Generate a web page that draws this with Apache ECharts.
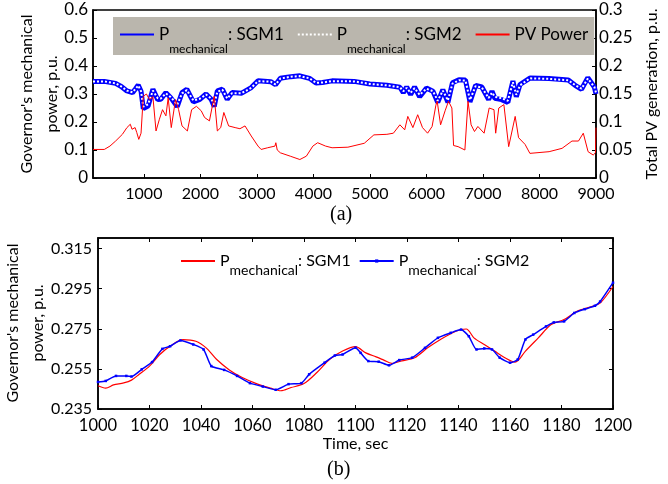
<!DOCTYPE html>
<html>
<head>
<meta charset="utf-8">
<script src="https://cdn.jsdelivr.net/npm/echarts@6/dist/echarts.min.js"></script>
<style>
  html, body { margin: 0; padding: 0; background: #fff; }
  #chart { width: 668px; height: 484px; }
</style>
</head>
<body>
<div id="chart"></div>
<script>
// (a) whole run, seconds
const sgmTime = [100, 300, 500, 600, 700, 800, 850, 900, 950, 990, 1075, 1160, 1245, 1300, 1390, 1475, 1590, 1675, 1760, 1875,
  1990, 2100, 2190, 2245, 2300, 2390, 2475, 2560, 2730, 2900, 3020, 3245, 3330, 3415, 3600, 3760, 3930, 4045, 4160, 4330,
  4720, 5000, 5300, 5530, 5590, 5650, 5720, 5790, 5880, 6000, 6115, 6200, 6290, 6380, 6460, 6575, 6690, 6770, 6870, 6980,
  7100, 7160, 7210, 7330, 7440, 7530, 7590, 7655, 7830, 8170, 8510, 8630, 8744, 8855, 8970, 9000];
const sgm1 = [0.345, 0.345, 0.338, 0.327, 0.311, 0.305, 0.318, 0.332, 0.31, 0.248, 0.257, 0.317, 0.28, 0.281, 0.305, 0.287, 0.255, 0.305, 0.317, 0.272,
  0.281, 0.3, 0.281, 0.255, 0.311, 0.317, 0.281, 0.305, 0.303, 0.323, 0.347, 0.344, 0.333, 0.356, 0.362, 0.365, 0.356, 0.339, 0.341, 0.347,
  0.345, 0.336, 0.331, 0.324, 0.305, 0.325, 0.298, 0.325, 0.29, 0.321, 0.31, 0.27, 0.315, 0.27, 0.34, 0.351, 0.35, 0.272, 0.331, 0.325,
  0.28, 0.31, 0.285, 0.28, 0.27, 0.346, 0.29, 0.334, 0.357, 0.355, 0.35, 0.331, 0.317, 0.358, 0.325, 0.3];
const sgm2 = [0.345, 0.345, 0.338, 0.327, 0.312, 0.306, 0.318, 0.33, 0.31, 0.255, 0.263, 0.312, 0.285, 0.284, 0.302, 0.289, 0.262, 0.302, 0.314, 0.277,
  0.283, 0.298, 0.284, 0.262, 0.308, 0.315, 0.284, 0.303, 0.303, 0.322, 0.346, 0.344, 0.334, 0.355, 0.362, 0.364, 0.356, 0.34, 0.341, 0.346,
  0.345, 0.336, 0.331, 0.324, 0.31, 0.322, 0.304, 0.321, 0.297, 0.319, 0.31, 0.276, 0.312, 0.277, 0.337, 0.349, 0.348, 0.279, 0.328, 0.323,
  0.286, 0.305, 0.29, 0.285, 0.276, 0.342, 0.297, 0.331, 0.356, 0.354, 0.349, 0.332, 0.319, 0.355, 0.326, 0.305];
const pvTime = [100, 300, 400, 500, 620, 700, 760, 790, 845, 875, 910, 950, 990, 1045, 1100, 1160, 1215, 1275, 1330, 1390,
  1430, 1485, 1560, 1615, 1675, 1770, 1845, 1930, 2015, 2075, 2160, 2245, 2300, 2360, 2415, 2500, 2615, 2700, 2790, 2900,
  3020, 3075, 3190, 3320, 3335, 3360, 3415, 3590, 3760, 3875, 3990, 4075, 4215, 4330, 4610, 4900, 5070, 5300, 5415, 5530,
  5615, 5670, 5760, 5845, 5930, 6020, 6100, 6167, 6190, 6250, 6330, 6390, 6450, 6480, 6560, 6680, 6735, 6790, 6850, 6910,
  7020, 7110, 7195, 7225, 7280, 7370, 7455, 7570, 7630, 7745, 7830, 8170, 8400, 8575, 8690, 8775, 8860, 8950, 8990, 9000];
const pvPower = [0.051, 0.051, 0.057, 0.066, 0.078, 0.09, 0.096, 0.087, 0.09, 0.081, 0.069, 0.08, 0.146, 0.15, 0.14, 0.145, 0.084, 0.105, 0.122, 0.111,
  0.143, 0.09, 0.14, 0.122, 0.093, 0.084, 0.122, 0.128, 0.12, 0.108, 0.102, 0.146, 0.084, 0.09, 0.117, 0.093, 0.09, 0.088, 0.093, 0.075,
  0.057, 0.051, 0.054, 0.057, 0.063, 0.05, 0.045, 0.039, 0.033, 0.039, 0.057, 0.063, 0.057, 0.054, 0.055, 0.062, 0.077, 0.078, 0.08, 0.095,
  0.086, 0.11, 0.09, 0.113, 0.09, 0.08, 0.092, 0.13, 0.137, 0.095, 0.12, 0.137, 0.125, 0.058, 0.056, 0.05, 0.137, 0.095, 0.083, 0.092,
  0.08, 0.125, 0.122, 0.08, 0.125, 0.131, 0.056, 0.11, 0.072, 0.06, 0.044, 0.047, 0.053, 0.066, 0.066, 0.08, 0.047, 0.041, 0.045, 0.09];

// (b) zoom on 1000..1200 s
const zoomTime1 = [1000, 1003, 1006, 1010, 1013, 1016, 1020, 1024, 1028, 1033, 1038, 1042, 1046, 1051, 1056, 1062, 1067, 1071, 1075, 1080,
  1085, 1090, 1095, 1100, 1104, 1108, 1111, 1114, 1118, 1123, 1128, 1133, 1139, 1143, 1146, 1150, 1154, 1158, 1162, 1166,
  1171, 1176, 1181, 1186, 1192, 1195, 1200];
const zoomSgm1 = [0.2466, 0.2454, 0.247, 0.248, 0.2494, 0.2523, 0.2564, 0.2622, 0.2663, 0.2696, 0.2688, 0.2655, 0.2598, 0.2545, 0.2507, 0.2474, 0.2454, 0.2441, 0.2457, 0.2477,
  0.2532, 0.2598, 0.2639, 0.2661, 0.263, 0.261, 0.2594, 0.2578, 0.259, 0.2606, 0.2655, 0.2697, 0.2738, 0.2749, 0.2705, 0.2672, 0.2639, 0.2606, 0.2584, 0.2639,
  0.2705, 0.2771, 0.2796, 0.2837, 0.2862, 0.2878, 0.2961];
const zoomTime2 = [1000, 1003, 1007, 1011, 1013, 1017, 1021, 1025, 1028, 1032, 1037, 1041, 1044, 1049, 1054, 1059, 1064, 1069, 1074, 1079,
  1082, 1088, 1092, 1095, 1100, 1102, 1105, 1109, 1113, 1117, 1122, 1127, 1132, 1137, 1141, 1144, 1147, 1150, 1153, 1156,
  1160, 1163, 1166, 1169, 1174, 1177, 1181, 1185, 1189, 1193, 1195, 1200];
const zoomSgm2 = [0.2485, 0.249, 0.2515, 0.2515, 0.2512, 0.2548, 0.2584, 0.265, 0.2663, 0.2692, 0.2672, 0.2647, 0.2564, 0.2545, 0.2515, 0.2479, 0.2462, 0.2446, 0.2474, 0.2479,
  0.2523, 0.2581, 0.2617, 0.2622, 0.2656, 0.263, 0.2589, 0.2586, 0.2568, 0.2594, 0.2606, 0.2655, 0.2705, 0.273, 0.2746, 0.2713, 0.2647, 0.2652, 0.2647, 0.2606,
  0.2581, 0.2597, 0.2697, 0.2721, 0.2762, 0.2782, 0.2787, 0.2829, 0.2848, 0.2865, 0.2886, 0.298];

// tick labels
const topTicksX = [1000, 2000, 3000, 4000, 5000, 6000, 7000, 8000, 9000];
const zoomTicksY = [0.235, 0.255, 0.275, 0.295, 0.315];

const pairs = (xs, ys) => xs.map((x, i) => [x, ys[i]]);
const font = 'Lato';
const legendNames = { a1: 'SGM1', a2: 'SGM2', b1: 'SGM1', b2: 'SGM2' };

// P with a "mechanical" subscript, built from rich text tokens
function legendText(name) {
  if (name === 'pv') return '{p|PV Power}';
  return '{p|P}{sub|mechanical}{p|: ' + legendNames[name] + '}';
}

// two-line rotated axis title (axis name line spacing came out too tight)
function sideTitle(text, x, y) {
  return {
    type: 'text', x: x, y: y, rotation: Math.PI / 2,
    style: { text: text, font: '16px ' + font, fill: '#000', align: 'center', verticalAlign: 'middle' }
  };
}

const axisBase = {
  axisLine: { lineStyle: { color: '#000', width: 1.5 } },
  axisTick: { inside: true, length: 4, lineStyle: { color: '#000' } },
  axisLabel: { color: '#000', fontFamily: font, fontSize: 16, formatter: v => String(v) },
  splitLine: { show: false },
  nameMoveOverlap: false,
  nameTextStyle: { color: '#000', fontFamily: font, fontSize: 16 }
};

const chart = echarts.init(document.getElementById('chart'));
chart.setOption({
  animation: false,
  backgroundColor: '#fff',
  grid: [
    { left: 93, top: 10, width: 519, height: 168, show: true, borderColor: '#000', borderWidth: 1.5 },
    { left: 98, top: 238, width: 515, height: 171, show: true, borderColor: '#000', borderWidth: 1.5 }
  ],
  legend: [
    {
      data: ['a1', 'a2', 'pv'],
      left: 113, top: 17,
      backgroundColor: '#bab6ad',
      padding: [9, 6, 0, 6],
      itemWidth: 34, itemHeight: 10, itemGap: 13,
      itemStyle: { opacity: 0 },
      formatter: legendText,
      textStyle: {
        color: '#000',
        rich: {
          p: { fontFamily: font, fontSize: 17, lineHeight: 41, verticalAlign: 'middle' },
          sub: { fontFamily: font, fontSize: 12, lineHeight: 10, verticalAlign: 'bottom' }
        }
      }
    },
    {
      data: [{ name: 'b1', itemStyle: { opacity: 0 } }, { name: 'b2' }],
      left: 180, top: 253,
      padding: 0,
      itemWidth: 34, itemHeight: 4, itemGap: 8,
      formatter: legendText,
      textStyle: {
        color: '#000',
        rich: {
          p: { fontFamily: font, fontSize: 16, lineHeight: 32, verticalAlign: 'middle' },
          sub: { fontFamily: font, fontSize: 14, lineHeight: 12, verticalAlign: 'bottom' }
        }
      }
    }
  ],
  xAxis: [
    Object.assign({}, axisBase, {
      type: 'value', gridIndex: 0, min: 100, max: 9000,
      axisTick: Object.assign({}, axisBase.axisTick, { customValues: topTicksX }),
      axisLabel: Object.assign({}, axisBase.axisLabel, { customValues: topTicksX, margin: 8 })
    }),
    Object.assign({}, axisBase, {
      type: 'value', gridIndex: 1, min: 1000, max: 1200, interval: 20,
      name: 'Time, sec', nameLocation: 'middle', nameGap: 27,
      axisLabel: Object.assign({}, axisBase.axisLabel, { margin: 8, fontSize: 16.5 })
    }),
    Object.assign({}, axisBase, {
      type: 'value', gridIndex: 1, position: 'top', min: 1000, max: 1200, interval: 20,
      axisLabel: { show: false }
    })
  ],
  yAxis: [
    Object.assign({}, axisBase, {
      type: 'value', gridIndex: 0, min: 0, max: 0.6, interval: 0.1,
      axisLabel: Object.assign({}, axisBase.axisLabel, { fontSize: 17, margin: 5 })
    }),
    Object.assign({}, axisBase, {
      type: 'value', gridIndex: 0, position: 'right', min: 0, max: 0.3, interval: 0.05,
      name: 'Total PV generation, p.u.', nameLocation: 'middle', nameRotate: 90, nameGap: 48,
      axisLabel: Object.assign({}, axisBase.axisLabel, { fontSize: 17, margin: 3 })
    }),
    Object.assign({}, axisBase, {
      type: 'value', gridIndex: 1, min: 0.235, max: 0.3203,
      axisTick: Object.assign({}, axisBase.axisTick, { customValues: zoomTicksY }),
      axisLabel: Object.assign({}, axisBase.axisLabel, {
        customValues: zoomTicksY, margin: 6, formatter: v => v.toFixed(3)
      })
    }),
    Object.assign({}, axisBase, {
      type: 'value', gridIndex: 1, position: 'right', min: 0.235, max: 0.3203,
      axisTick: Object.assign({}, axisBase.axisTick, { customValues: zoomTicksY }),
      axisLabel: { show: false }
    })
  ],
  series: [
    {
      name: 'a1', type: 'line', xAxisIndex: 0, yAxisIndex: 0, symbol: 'none',
      color: '#0000ff', lineStyle: { color: '#0000ff', width: 5 },
      data: pairs(sgmTime, sgm1)
    },
    {
      name: 'a2', type: 'line', xAxisIndex: 0, yAxisIndex: 0, symbol: 'none',
      color: '#ffffff', lineStyle: { color: '#ffffff', width: 2, type: [2, 2] },
      data: pairs(sgmTime, sgm2)
    },
    {
      name: 'pv', type: 'line', xAxisIndex: 0, yAxisIndex: 1, symbol: 'none',
      color: '#ff0000', lineStyle: { color: '#ff0000', width: 1 },
      data: pairs(pvTime, pvPower)
    },
    {
      name: 'b1', type: 'line', xAxisIndex: 1, yAxisIndex: 2, symbol: 'none', smooth: 0.3,
      color: '#ff0000', lineStyle: { color: '#ff0000', width: 1.2 },
      data: pairs(zoomTime1, zoomSgm1)
    },
    {
      name: 'b2', type: 'line', xAxisIndex: 1, yAxisIndex: 2, symbol: 'rect', symbolSize: 2.5, showSymbol: true,
      smooth: 0.2,
      color: '#0000ff', lineStyle: { color: '#0000ff', width: 1.5 },
      data: pairs(zoomTime2, zoomSgm2)
    }
  ],
  graphic: [
    sideTitle("Governor's mechanical", 26.5, 94),
    sideTitle('power, p.u.', 51.5, 94),
    sideTitle("Governor's mechanical", 12.5, 323),
    sideTitle('power, p.u.', 37.5, 323),
    { type: 'text', left: 330, top: 205, style: { text: '(a)', font: '20px "Liberation Serif"', fill: '#000' } },
    { type: 'text', left: 327, top: 460, style: { text: '(b)', font: '20px "Liberation Serif"', fill: '#000' } }
  ]
});
</script>
</body>
</html>
